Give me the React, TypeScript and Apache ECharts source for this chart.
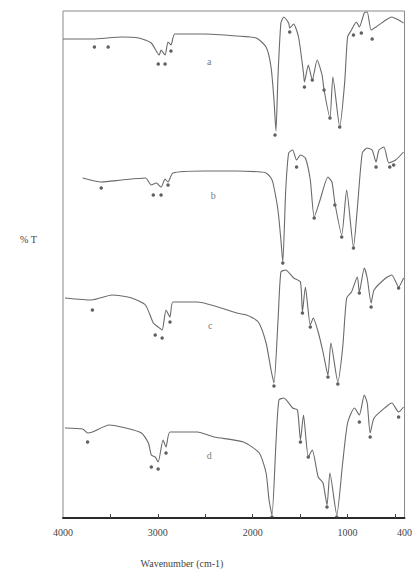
import React, { useEffect, useRef } from "react";
import * as echarts from "echarts";

// Spectrum a
const aWn = [4000,3690,3379,3203,3069,2986,2966,2924,2893,2862,2821,2510,2169,1962,1859,1807,1776,1755,1734,1703,1672,1621,1610,1569,1517,1465,1455,1414,1372,1321,1269,1248,1186,1155,1083,1031,1000,959,907,876,824,793,752,700,597,534,462,410];
const aT = [95.8,95.8,96.2,96.0,95.0,92.6,93.6,92.6,95.2,94.6,96.8,96.8,96.4,96.0,94.2,90.2,83.6,77.4,88.2,99.0,100.2,99.0,98.0,98.8,96.2,89.0,87.2,90.6,87.6,91.6,88.6,85.6,80.0,88.2,78.2,87.0,96.2,97.6,99.2,98.2,101.0,101.2,97.6,98.2,99.6,100.2,99.6,99.0];
const aPeakWn = [3669,3524,2996,2924,2862,1765,1610,1455,1372,1248,1186,1083,938,855,741];
const aPeakT = [94.2,94.2,90.8,90.8,93.4,76.6,97.2,86.2,87.6,85.6,80.0,78.2,96.6,97.0,95.8];

// Spectrum b
const bWn = [3793,3597,3379,3131,3069,3017,2966,2924,2893,2841,2510,2169,1910,1859,1807,1786,1734,1703,1683,1652,1621,1579,1538,1497,1445,1393,1352,1290,1207,1165,1134,1062,1010,938,896,845,793,741,700,669,617,565,493,410];
const bT = [68.0,67.2,67.6,68.0,66.6,67.0,66.2,67.8,67.2,69.0,69.4,69.4,69.2,69.0,68.0,67.0,61.6,55.6,51.2,65.6,73.0,73.6,71.6,72.6,72.0,67.6,60.2,63.6,68.2,67.2,63.0,56.6,65.6,54.2,62.2,73.0,74.0,73.6,71.2,73.6,74.2,71.0,71.6,73.2];
const bPeakWn = [3597,3048,2966,2893,1683,1538,1352,1134,1062,938,700,555,514];
const bPeakT = [66.0,64.6,64.6,66.6,51.0,70.2,60.0,62.6,56.2,54.0,70.2,70.2,70.6];

// Spectrum c
const cWn = [3979,3700,3483,3276,3131,3048,2997,2955,2914,2872,2841,2583,2169,2065,1941,1859,1807,1776,1734,1703,1652,1569,1497,1476,1445,1393,1362,1310,1259,1207,1176,1103,1052,1010,959,897,876,824,793,752,721,597,534,462,410];
const cT = [44.0,43.6,44.6,44.0,42.6,39.0,38.2,37.6,41.6,40.2,43.2,43.2,41.0,40.6,39.2,35.0,29.6,27.0,39.2,49.2,49.6,48.0,47.2,41.2,46.2,38.6,40.0,37.2,33.2,28.6,35.0,27.2,34.0,44.0,45.2,48.2,45.2,50.0,48.0,43.0,45.6,48.0,48.6,46.2,48.0];
const cPeakWn = [3690,3028,2955,2872,1776,1476,1393,1207,1103,876,752,462];
const cPeakT = [41.6,36.6,36.0,39.2,26.4,41.0,38.2,28.2,26.8,45.0,42.2,46.0];

// Spectrum d
const dWn = [3979,3793,3741,3690,3514,3338,3172,3100,3069,3028,2997,2945,2914,2872,2583,2407,2097,1931,1859,1828,1797,1755,1724,1672,1579,1528,1497,1465,1414,1372,1310,1259,1217,1186,1114,1052,1000,928,876,824,793,762,721,597,534,462,410];
const dT = [18.0,17.8,17.0,17.2,18.6,18.0,17.0,15.0,12.6,12.2,11.2,15.6,14.2,17.2,17.2,16.2,15.2,13.0,9.0,3.6,0.6,15.0,23.6,24.0,22.0,21.6,15.6,20.6,12.2,13.6,8.2,7.0,2.6,9.0,0.6,11.0,19.0,22.0,20.6,24.6,23.0,17.0,20.0,22.2,23.0,21.2,22.2];
const dPeakWn = [3741,3069,2997,2914,1797,1497,1414,1217,1114,876,762,462];
const dPeakT = [15.2,10.2,9.8,13.0,0.2,15.2,12.2,2.2,0.2,19.2,16.2,20.2];

// Curve labels
const curveNames = ["a", "b", "c", "d"];
const curveLabelWn = [2459, 2417, 2448, 2459];
const curveLabelT = [91.4, 64.6, 38.6, 12.6];

// Axis labels / ticks
const xLabelValues = [4000, 3000, 2000, 1000, 400];
const xTickValues = [3500, 3000, 2500, 2000, 1500, 1000, 500];

const zip = (x: number[], y: number[]) => x.map((v, i) => [v, y[i]]);

const SERIF = "'Liberation Serif', 'DejaVu Serif', serif";

export default function App() {
  const ref = useRef<HTMLDivElement>(null);
  useEffect(() => {
    if (!ref.current) return;
    const chart = echarts.init(ref.current, undefined, { renderer: "svg" });
    const lineStyle = { color: "#6a6a6a", width: 1.1 };
    const mkLine = (wn: number[], t: number[]) => ({
      type: "line",
      data: zip(wn, t),
      showSymbol: false,
      symbol: "none",
      lineStyle,
      smooth: 0.2,
      silent: true,
    });
    const mkPeaks = (wn: number[], t: number[]) => ({
      type: "scatter",
      data: zip(wn, t),
      symbol: "circle",
      symbolSize: 3.5,
      itemStyle: { color: "#3a3a3a" },
      silent: true,
    });
    chart.setOption({
      animation: false,
      grid: {
        left: 63,
        right: 4,
        top: 11,
        bottom: 60,
        show: true,
        borderColor: "#8a8a8a",
        borderWidth: 1,
        backgroundColor: "transparent",
      },
      xAxis: {
        type: "value",
        inverse: true,
        min: 400,
        max: 4000,
        splitLine: { show: false },
        axisLine: { show: true, lineStyle: { color: "#2a2a2a", width: 2 } },
        axisTick: {
          show: true,
          inside: true,
          length: 4,
          customValues: xTickValues,
          lineStyle: { color: "#444", width: 1 },
        },
        axisLabel: {
          customValues: xLabelValues,
          formatter: (v: number) => String(v),
          fontFamily: SERIF,
          fontSize: 10,
          color: "#444",
          margin: 9,
        },
      },
      yAxis: {
        type: "value",
        min: 0,
        max: 101.4,
        show: false,
      },
      series: [
        mkLine(aWn, aT),
        mkLine(bWn, bT),
        mkLine(cWn, cT),
        mkLine(dWn, dT),
        mkPeaks(aPeakWn, aPeakT),
        mkPeaks(bPeakWn, bPeakT),
        mkPeaks(cPeakWn, cPeakT),
        mkPeaks(dPeakWn, dPeakT),
        {
          type: "scatter",
          data: curveNames.map((n, i) => ({ name: n, value: [curveLabelWn[i], curveLabelT[i]] })),
          symbolSize: 1,
          itemStyle: { color: "transparent" },
          label: {
            show: true,
            position: "inside",
            formatter: (p: any) => p.name,
            fontFamily: SERIF,
            fontSize: 10,
            color: "#555",
          },
          silent: true,
        },
      ],
      graphic: [
        {
          type: "text",
          left: 20,
          top: 234,
          style: { text: "% T", fontFamily: SERIF, fontSize: 10, fill: "#444" },
        },
        {
          type: "text",
          x: 182,
          y: 563,
          style: {
            text: "Wavenumber (cm-1)",
            fontFamily: SERIF,
            fontSize: 10,
            fill: "#444",
            align: "center",
            verticalAlign: "middle",
          },
        },
      ],
    });
    return () => chart.dispose();
  }, []);
  return (
    <div
      ref={ref}
      style={{ position: "absolute", left: 0, top: 0, width: 415, height: 578, background: "#fff" }}
    />
  );
}
